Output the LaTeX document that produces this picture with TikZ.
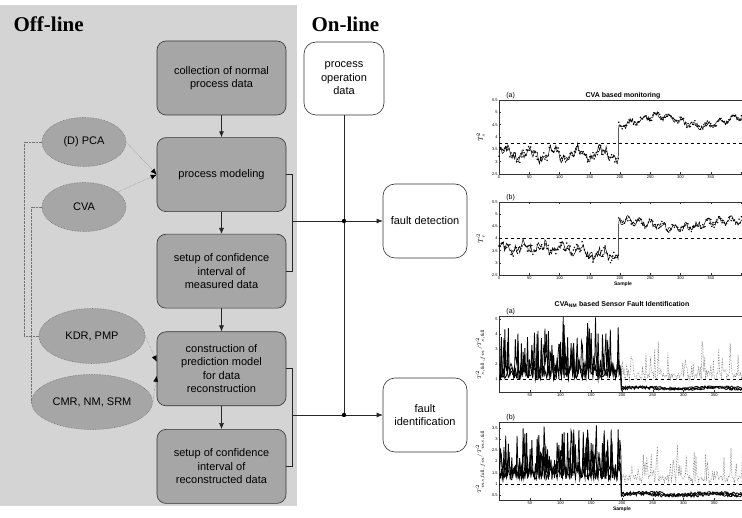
\documentclass[tikz,border=0pt]{standalone}
\usepackage{fontspec}
\setmainfont{Liberation Serif}
\setsansfont{Liberation Sans}
\usetikzlibrary{arrows.meta,positioning,shapes.geometric}

\begin{document}
\begin{tikzpicture}[x=1pt,y=-1pt,>={Latex[length=6pt,width=5pt]},node distance=22pt,
                    semithick,font=\sffamily\fontsize{11}{13.5}\selectfont]
  \tikzstyle{offbox}=[draw=black!80,fill=black!35,rounded corners=9pt,
                      minimum width=129pt,minimum height=74pt,align=center]
  \tikzstyle{onbox}=[offbox,fill=white,rounded corners=12pt]
  \tikzstyle{method}=[ellipse,draw=black!55,densely dotted,fill=black!35,
                      minimum width=84pt,minimum height=49pt]
  \tikzstyle{link}=[densely dotted,black!55,thin]
  \tikzstyle{headline}=[font=\rmfamily\bfseries\fontsize{21}{21}\selectfont,anchor=base west]
  % plot styles
  \tikzstyle{axes}=[draw=black!80,line width=0.5pt]
  \tikzstyle{limit}=[dashed,line width=0.6pt]
  \tikzstyle{trend}=[line width=0.5pt,mark=*,mark size=0.45pt]
  \tikzstyle{fault}=[line width=0.8pt]
  \tikzstyle{healthy}=[densely dotted,black!55,line width=0.6pt]
  \tikzstyle{ticklabel}=[font=\sffamily\fontsize{4}{4}\selectfont,inner sep=1pt]
  \tikzstyle{panel}=[font=\sffamily\fontsize{7}{7}\selectfont,inner sep=1pt]
  \tikzstyle{plottitle}=[font=\sffamily\bfseries\fontsize{7}{7}\selectfont,inner sep=1pt]

  \useasboundingbox (0,0) rectangle (742,518);
  \fill[black!17] (0,5) rectangle (297,506);
  \pgfmathsetseed{12}

  \node[headline] (offl) at (10,32) {Off-line};
  \node[headline] (onl)  at (308,32) {On-line};

  % off-line steps
  \node[offbox]                    (collect) at (221.5,78) {collection of normal\\process data};
  \node[offbox,below=of collect]   (model)  {process modeling};
  \node[offbox,below=of model]     (meas)   {setup of confidence\\interval of\\measured data};
  \node[offbox,below=23pt of meas] (pred)   {construction of\\prediction model\\for data\\reconstruction};
  \node[offbox,below=23pt of pred] (recon)  {setup of confidence\\interval of\\reconstructed data};

  \draw[->,black!85] (collect) -- (model);
  \draw[->,black!85] (model) -- (meas);
  \draw[->,black!85] (meas) -- (pred);
  \draw[->,black!85] (pred) -- (recon);

  % methods
  \node[method] (pca) at (84,142) {(D) PCA};
  \node[method] (cva) at (84,207) {CVA};
  \node[method,minimum width=106pt,minimum height=55pt] (kdr) at (92,336) {KDR, PMP};
  \node[method,minimum width=106pt,minimum height=55pt] (cmr) at (92,402) {CMR, NM, SRM};

  \draw[link,-{Latex[black,length=6pt,width=5pt]}] (pca.east) -- (model.west);
  \draw[link,-{Latex[black,length=6pt,width=5pt]}] (cva) -- (model.west);
  \draw[link,-{Latex[black,length=6pt,width=5pt]}] (kdr.east) -- ([yshift=7pt]pred.west);
  \draw[link,-{Latex[black,length=6pt,width=5pt]}] (cmr.east) -- ([yshift=-7pt]pred.west);
  \draw[link] (pca.west) -- ++(-18,0) |- (kdr.west);
  \draw[link] (cva.west) -- ++(-11,0) |- (cmr.west);

  % on-line part
  \node[onbox,minimum width=80pt,minimum height=73pt] (pod) at (344,78.5) {process\\operation\\data};
  \node[onbox,minimum width=84pt] (det)  at (425,221) {fault detection};
  \node[onbox,minimum width=84pt] (iden) at (425,415) {fault\\identification};

  \coordinate (b1) at ([xshift=6pt]model.east);
  \coordinate (b2) at ([xshift=6pt]pred.east);
  \draw[black!85] (model.east) -- (b1) |- (meas.east);
  \draw[black!85] (pred.east) -- (b2) |- (recon.east);
  \draw[->,black!85] (b1 |- det.west) -- (det.west);
  \draw[->,black!85] (b2 |- iden.west) -- (iden.west);
  \draw[black!85] (pod.south) -- (pod.south |- iden.west);
  \fill (pod.south |- det.west) circle (2.2pt);
  \fill (pod.south |- iden.west) circle (2.2pt);

  % (a) CVA based monitoring
  \begin{scope}[shift={(499,174)},x=0.605pt,y=24.67pt]
    \draw[axes] (0,0) rectangle (440,3);
    \foreach \t in {0,50,...,400}
      \draw[axes] (\t,0) -- ++(0pt,1.5pt) (\t,3) -- ++(0pt,-1.5pt);
    \foreach \t in {0,50,...,350}
      \node[ticklabel,below] at (\t,0) {\t};
    \foreach \v in {2.5,3,3.5,4,4.5,5,5.5} {
      \draw[axes] (0,{\v-2.5}) -- ++(1.5pt,0pt);
      \node[ticklabel,left] at (0,{\v-2.5}) {\v};
    }
    \draw[limit] (0,1.25) -- (440,1.25);
    \draw[trend] plot[domain=0:197,samples=110] (\x,{0.8+0.2*sin(9*\x)+0.1*sin(31*\x)+0.15*rand})
      -- plot[domain=198:440,samples=130] (\x,{2.15+0.2*sin(2.5*\x+150)+0.1*sin(17*\x)+0.1*rand});
    \node[panel,anchor=south west] at (10,3) {(a)};
    \node[plottitle,above] at (205,3) {CVA based monitoring};
    \node[panel,rotate=90] at (-30,1.5) {$T^2_s$};
  \end{scope}

  % (b)
  \begin{scope}[shift={(499,275)},x=0.605pt,y=24.33pt]
    \draw[axes] (0,0) rectangle (440,3);
    \foreach \t in {0,50,...,400}
      \draw[axes] (\t,0) -- ++(0pt,1.5pt) (\t,3) -- ++(0pt,-1.5pt);
    \foreach \t in {0,50,...,350}
      \node[ticklabel,below] at (\t,0) {\t};
    \foreach \v in {2.5,3,3.5,4,4.5,5,5.5} {
      \draw[axes] (0,{\v-2.5}) -- ++(1.5pt,0pt);
      \node[ticklabel,left] at (0,{\v-2.5}) {\v};
    }
    \draw[limit] (0,1.5) -- (440,1.5);
    \draw[trend] plot[domain=0:197,samples=110] (\x,{1.1-0.25*(\x>140)+0.15*sin(11*\x)+0.1*sin(29*\x)+0.17*rand})
      -- plot[domain=198:440,samples=130] (\x,{2.1+0.15*sin(2*\x+40)+0.1*sin(19*\x)+0.12*rand});
    \node[panel,anchor=south west] at (10,3) {(b)};
    \node[panel,rotate=90] at (-30,1.5) {$T^2_r$};
    \node[plottitle,font=\sffamily\bfseries\fontsize{5}{5}\selectfont] at (205,0) [below=6pt] {Sample};
  \end{scope}

  % (a) CVA_NM based sensor fault identification
  \begin{scope}[shift={(499,392)},x=0.615pt,y=15pt]
    \draw[axes] (0,0) rectangle (440,5.07);
    \foreach \t in {50,100,...,400}
      \draw[axes] (\t,0) -- ++(0pt,1.5pt) (\t,5.07) -- ++(0pt,-1.5pt);
    \foreach \t in {50,100,...,350}
      \node[ticklabel,below] at (\t,0) {\t};
    \foreach \v in {1,...,5} {
      \draw[axes] (0,{\v-0.13}) -- ++(1.5pt,0pt);
      \node[ticklabel,left] at (0,{\v-0.13}) {\v};
    }
    \draw[healthy] plot[domain=199:440,samples=170] (\x,{0.8+0.5*rnd+2.3*rnd^6});
    \draw[limit] (0,0.87) -- (440,0.87);
    \foreach \s in {1,2,3}
      \draw[fault] plot[domain=1:198,samples=140] (\x,{max(0.45,0.8+0.9*rnd+3.6*rnd^7)})
        -- plot[domain=199:440,samples=150] (\x,{0.18+0.15*rnd+0.08*sin(3*\x+60*\s)});
    \node[panel,anchor=south west] at (10,5.07) {(a)};
    \node[plottitle,above=7pt] at (200,5.07) {CVA\textsubscript{NM} based Sensor Fault Identification};
    \node[ticklabel,rotate=90,font=\fontsize{5}{5}\selectfont] at (-30,2.5) {$T^2_{s,\mathrm{full},fm}/T^2_{s,\mathrm{full}}$};
  \end{scope}

  % (b)
  \begin{scope}[shift={(499,500)},x=0.615pt,y=22.5pt]
    \draw[axes] (0,0) rectangle (440,3.47);
    \foreach \t in {50,100,...,400}
      \draw[axes] (\t,0) -- ++(0pt,1.5pt) (\t,3.47) -- ++(0pt,-1.5pt);
    \foreach \t in {50,100,...,350}
      \node[ticklabel,below] at (\t,0) {\t};
    \foreach \v in {0.5,1,1.5,2,2.5,3,3.5} {
      \draw[axes] (0,{\v-0.29}) -- ++(1.5pt,0pt);
      \node[ticklabel,left] at (0,{\v-0.29}) {\v};
    }
    \draw[healthy] plot[domain=199:440,samples=170] (\x,{0.75+0.4*rnd+1.7*rnd^6});
    \draw[limit] (0,0.71) -- (440,0.71);
    \foreach \s in {1,2,3}
      \draw[fault] plot[domain=1:198,samples=140] (\x,{max(0.35,0.9+0.5*rnd+2.2*rnd^7)})
        -- plot[domain=199:440,samples=150] (\x,{0.18+0.15*rnd+0.06*sin(3*\x+60*\s)});
    \node[panel,anchor=south west] at (10,3.47) {(b)};
    \node[ticklabel,rotate=90,font=\fontsize{5}{5}\selectfont] at (-30,1.7) {$T^2_{ms,\mathrm{full},fm}/T^2_{ms,\mathrm{full}}$};
    \node[plottitle,font=\sffamily\bfseries\fontsize{5}{5}\selectfont] at (200,0) [below=6pt] {Sample};
  \end{scope}
\end{tikzpicture}
\end{document}
